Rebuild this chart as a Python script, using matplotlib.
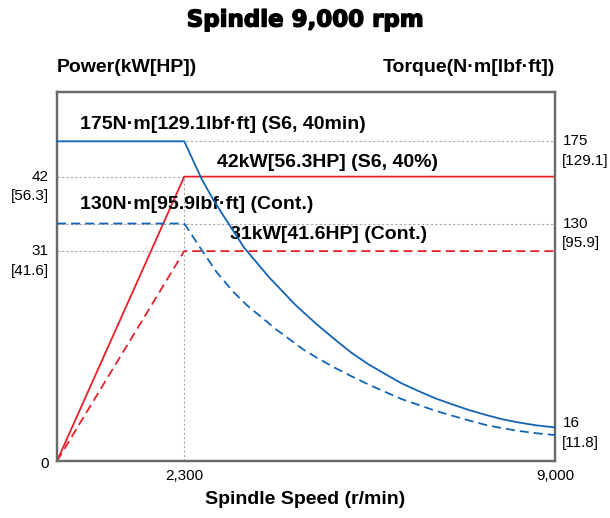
import matplotlib
matplotlib.use("Agg")
import matplotlib.pyplot as plt
import matplotlib.patheffects as pe

# ---------------- data ----------------
speed_ticks = [2300, 9000]
speed_tick_labels = ["2,300", "9,000"]

power_levels = [42, 31]
power_hp_labels = ["[56.3]", "[41.6]"]

torque_levels = [175, 130, 16]
torque_lbf_labels = ["[129.1]", "[95.9]", "[11.8]"]

power_s6_speed = [0, 2300, 9000]
power_s6 = [0, 42, 42]
power_cont_speed = [0, 2300, 9000]
power_cont = [0, 31, 31]

torque_s6_speed = [0, 2300, 2422, 2614, 2806, 2998, 3382, 3829, 4310, 4706, 5072, 5315,
                   5620, 5925, 6228, 6533, 6838, 7142, 7447, 7752, 8055, 8360, 8666, 9000]
torque_s6 = [175, 175, 167.0, 154.4, 144.0, 134.7, 116.8, 100.7, 85.4, 74.5, 65.3, 59.4,
             53.1, 47.7, 42.5, 38.3, 34.3, 31.0, 27.9, 25.2, 22.8, 21.0, 19.5, 18.4]

torque_cont_speed = [0, 2300, 2587, 2879, 3184, 3427, 3975, 4463, 4706, 5011, 5315, 5620,
                     5925, 6228, 6533, 6838, 7142, 7447, 7752, 8055, 8360, 8666, 9000]
torque_cont = [130, 130, 116.8, 103.6, 92.7, 85.4, 71.7, 60.8, 56.4, 51.2, 46.5, 42.0,
               37.9, 33.9, 30.7, 27.5, 24.8, 22.2, 19.7, 17.9, 16.4, 15.2, 14.2]

curve_labels = ["175N·m[129.1lbf·ft] (S6, 40min)", "42kW[56.3HP] (S6, 40%)",
                "130N·m[95.9lbf·ft] (Cont.)", "31kW[41.6HP] (Cont.)"]

# ---------------- style ----------------
BLUE = "#1464b4"
RED = "#e8202a"
GRID = "#a8a8a8"
SPINE = "#6a6a6a"
FONT = "Liberation Sans"

W, H = 610, 518
fig = plt.figure(figsize=(W / 100, H / 100), dpi=100)
ax = fig.add_axes([57 / W, (H - 461) / H, (555 - 57) / W, (461 - 92) / H])
ax2 = ax.twinx()

ax.set_xlim(0, 9000)
ax.set_ylim(0, 54.5)
ax2.set_ylim(0, 202)

for a in (ax, ax2):
    for s in a.spines.values():
        s.set_color(SPINE)
        s.set_linewidth(1.6)
    a.set_yticks([])

ax.set_xticks(speed_ticks)
ax.set_xticklabels(speed_tick_labels, fontfamily=FONT, fontsize=11)
ax.tick_params(axis="x", length=0, pad=6)

gkw = dict(color=GRID, lw=0.8, linestyle=(0, (2, 2)), zorder=1)
# horizontal torque reference lines
for t in torque_levels[:2]:
    ax2.plot([0, 9000], [t, t], **gkw)
# power reference lines up to knee
for p in power_levels:
    ax.plot([0, power_s6_speed[1]], [p, p], **gkw)
ax.plot([power_s6_speed[1]] * 2, [0, power_levels[0]], **gkw)

dash = (0, (5, 2.8))
lkw = dict(lw=1.3, zorder=3, clip_on=False, solid_joinstyle="round", dash_joinstyle="round")
ax.plot(power_s6_speed, power_s6, color=RED, **lkw)
ax.plot(power_cont_speed, power_cont, color=RED, linestyle=dash, **lkw)
ax2.plot(torque_s6_speed, torque_s6, color=BLUE, **lkw)
ax2.plot(torque_cont_speed, torque_cont, color=BLUE, linestyle=dash, **lkw)

# left (power) labels
for p, hp in zip(power_levels, power_hp_labels):
    ax.annotate(str(p), xy=(0, p), xycoords=("axes fraction", "data"), xytext=(-6, 0),
                textcoords="offset points", ha="right", va="center", fontfamily=FONT, fontsize=11)
    ax.annotate(hp, xy=(0, p), xycoords=("axes fraction", "data"), xytext=(-6, -14),
                textcoords="offset points", ha="right", va="center", fontfamily=FONT, fontsize=11)
ax.annotate("0", xy=(0, 0), xycoords="axes fraction", xytext=(-6, -2),
            textcoords="offset points", ha="right", va="center", fontfamily=FONT, fontsize=11)

# right (torque) labels
offs = [0, 0, 6]
for t, lbf, o in zip(torque_levels, torque_lbf_labels, offs):
    ax2.annotate(str(t), xy=(1, t), xycoords=("axes fraction", "data"), xytext=(6, o),
                 textcoords="offset points", ha="left", va="center", fontfamily=FONT, fontsize=11)
    ax2.annotate(lbf, xy=(1, t), xycoords=("axes fraction", "data"), xytext=(5, o - 14),
                 textcoords="offset points", ha="left", va="center", fontfamily=FONT, fontsize=11)

# curve labels
pos = [(0.046, 0.911), (0.321, 0.809), (0.046, 0.694), (0.347, 0.615)]
for txt, (x, y) in zip(curve_labels, pos):
    ax.text(x, y, txt, transform=ax.transAxes, ha="left", va="center",
            fontfamily=FONT, fontweight="bold", fontsize=14, zorder=5)

fig.text(0.5, 1 - 20 / H, "Spindle 9,000 rpm", ha="center", va="center",
         fontfamily="DejaVu Sans", fontweight="bold", fontsize=16.5,
         path_effects=[pe.withStroke(linewidth=1.0, foreground="black")])
fig.text(57 / W, 1 - 68 / H, "Power(kW[HP])", ha="left", va="center",
         fontfamily=FONT, fontweight="bold", fontsize=14)
fig.text(555 / W, 1 - 68 / H, "Torque(N·m[lbf·ft])", ha="right", va="center",
         fontfamily=FONT, fontweight="bold", fontsize=14)
fig.text(305 / W, 1 - 500 / H, "Spindle Speed (r/min)", ha="center", va="center",
         fontfamily=FONT, fontweight="bold", fontsize=14)

fig.savefig("out.png", dpi=100)
